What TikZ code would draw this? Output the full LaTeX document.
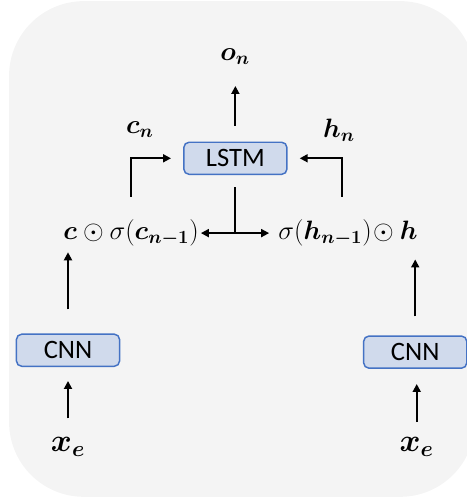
\documentclass[tikz,border=0pt]{standalone}
\usepackage{fix-cm}
\usepackage{amsmath,amssymb}
\usepackage{fontspec}
\setsansfont{Carlito}
\usepackage{tikz}
\usetikzlibrary{arrows.meta,positioning,calc}
\definecolor{bggray}{HTML}{F4F4F4}
\definecolor{boxblue}{HTML}{D0DAEC}
\definecolor{edgeblue}{HTML}{4472C4}

\begin{document}
\begin{tikzpicture}[
    block/.style={rectangle, draw=edgeblue, fill=boxblue, line width=1.1pt, minimum width=2.73cm, minimum height=0.85cm, rounded corners=4pt, font=\fontsize{20}{22}\selectfont\sffamily},
    lbl/.style={inner sep=0pt, font=\fontsize{20}{24}\selectfont},
    inp/.style={inner sep=0pt, font=\fontsize{24}{28}\selectfont},
    arr/.style={-{Triangle[length=6pt,width=6pt]}, line width=1.4pt},
    darr/.style={{Triangle[length=6pt,width=6pt]}-{Triangle[length=6pt,width=6pt]}, line width=1.4pt}
]
\useasboundingbox (0,0) rectangle (12.36,13.34);
\clip (0,0) rectangle (12.36,13.34);
\fill[bggray, rounded corners=1.98cm] (0.24,0.19) rectangle (12.57,13.31);

% LSTM cell
\node[block] (lstm) at (6.23, 9.15) {LSTM};
\node[lbl] (on) at (6.22, 11.83) {$\boldsymbol{o}_{\boldsymbol{n}}$};
\node[lbl] (cn) at (3.70, 9.90) {$\boldsymbol{c}_{\boldsymbol{n}}$};
\node[lbl] (hn) at (8.97, 9.90) {$\boldsymbol{h}_{\boldsymbol{n}}$};

% gated states
\node[lbl] (cgate) at (3.47, 7.17) {$\boldsymbol{c}\odot\sigma(\boldsymbol{c}_{\boldsymbol{n-1}})$};
\node[lbl] (hgate) at (9.21, 7.17) {$\sigma(\boldsymbol{h}_{\boldsymbol{n-1}})\!\odot\boldsymbol{h}$};
\coordinate (split) at (lstm |- cgate);

% encoders
\node[block] (cnnl) at (1.80, 4.07) {CNN};
\node[block] (cnnr) at (10.99, 4.02) {CNN};
\node[inp] (xl) at (1.80, 1.51) {$\boldsymbol{x}_{\boldsymbol{e}}$};
\node[inp] (xr) at (11.03, 1.51) {$\boldsymbol{x}_{\boldsymbol{e}}$};

\draw[arr, shorten <=0.42cm, shorten >=0.55cm] (lstm.north) -- (lstm.north |- on.south);
\draw[arr, shorten <=0.6cm, shorten >=0.32cm] (cgate.north) |- (lstm.west);
\draw[arr, shorten <=0.6cm, shorten >=0.32cm] ([xshift=-0.16cm]hgate.north) |- (lstm.east);
\draw[line width=1.4pt, shorten <=0.32cm] (lstm.south) -- (split);
\draw[arr, shorten >=0.05cm] (split) -- (cgate.east);
\draw[arr, shorten >=0.24cm] (split) -- (hgate.west);

\draw[arr, shorten <=0.64cm, shorten >=0.15cm] (cnnl.north) -- (cnnl.north |- cgate.south);
\draw[arr, shorten <=0.5cm, shorten >=0.34cm] (cnnr.north) -- (cnnr.north |- hgate.south);
\draw[arr, shorten <=0.5cm, shorten >=0.37cm] (xl.north) -- (cnnl.south);
\draw[arr, shorten <=0.4cm, shorten >=0.4cm] (xr.north) -- (xr.north |- cnnr.south);

\end{tikzpicture}
\end{document}
